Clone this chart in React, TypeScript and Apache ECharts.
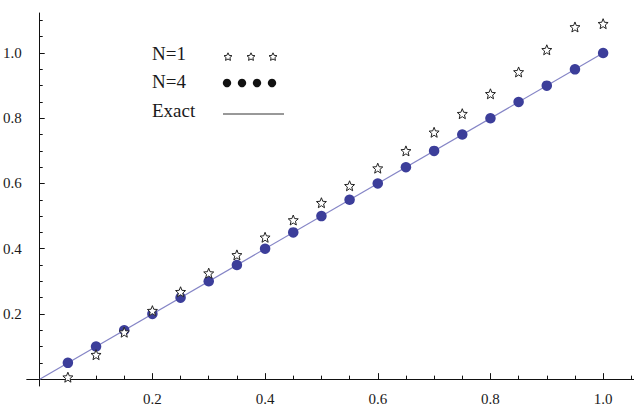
import React, { useEffect, useRef } from "react";
import * as echarts from "echarts";

const xValues = [0.05, 0.1, 0.15, 0.2, 0.25, 0.3, 0.35, 0.4, 0.45, 0.5, 0.55, 0.6, 0.65, 0.7, 0.75, 0.8, 0.85, 0.9, 0.95, 1.0];
const n1Values = [0.006, 0.075, 0.144, 0.21, 0.268, 0.325, 0.381, 0.435, 0.488, 0.541, 0.593, 0.647, 0.7, 0.757, 0.814, 0.875, 0.942, 1.01, 1.08, 1.09];
const n4Values = [0.05, 0.1, 0.15, 0.2, 0.25, 0.3, 0.35, 0.4, 0.45, 0.5, 0.55, 0.6, 0.65, 0.7, 0.75, 0.8, 0.85, 0.9, 0.95, 1.0];
const exactX = [0, 1];
const exactY = [0, 1];

const xMajorTicks = [0.2, 0.4, 0.6, 0.8, 1.0];
const xMinorTicks = [0.05, 0.1, 0.15, 0.25, 0.3, 0.35, 0.45, 0.5, 0.55, 0.65, 0.7, 0.75, 0.85, 0.9, 0.95, 1.05];
const yMajorTicks = [0.2, 0.4, 0.6, 0.8, 1.0];
const yMinorTicks = [0.05, 0.1, 0.15, 0.25, 0.3, 0.35, 0.45, 0.5, 0.55, 0.65, 0.7, 0.75, 0.85, 0.9, 0.95, 1.05, 1.1];

const legendNames = ["N=1", "N=4", "Exact"];

const STAR_PATH =
  "path://M50 0 L62.93 32.2 L97.55 34.55 L70.92 56.8 L79.39 90.45 L50 72 L20.61 90.45 L29.08 56.8 L2.45 34.55 L37.07 32.2 Z";

function starPoints(cx: number, cy: number, R: number, r: number) {
  const pts: number[][] = [];
  for (let i = 0; i < 10; i++) {
    const a = -Math.PI / 2 + (i * Math.PI) / 5;
    const rad = i % 2 === 0 ? R : r;
    pts.push([cx + rad * Math.cos(a), cy + rad * Math.sin(a)]);
  }
  return pts;
}

const SERIF = "Liberation Serif";
const AXIS_COLOR = "#111";
const DOT_COLOR = "#3c3e9a";
const LINE_COLOR = "#8585c6";

export default function App() {
  const ref = useRef<HTMLDivElement>(null);
  useEffect(() => {
    if (!ref.current) return;
    const chart = echarts.init(ref.current, null, { renderer: "svg" });

    const xMin = -0.023;
    const xMax = 1.0548;
    const yMin = -0.021;
    const yMax = 1.1228;

    const labelFmt = (v: number) => (Math.abs(v) < 1e-9 ? "" : v.toFixed(1));

    const legendGraphics: any[] = [];
    const legendTextY = [55, 83, 112];
    legendNames.forEach((name, i) => {
      legendGraphics.push({
        type: "text",
        left: 152,
        top: legendTextY[i] - 11,
        style: { text: name, fontSize: 19, fontFamily: SERIF, fill: "#1a1a1a" },
      });
    });
    [228, 251, 273].forEach((cx) => {
      legendGraphics.push({
        type: "polygon",
        shape: { points: starPoints(cx, 57, 4.2, 2) },
        style: { fill: "#fff", stroke: "#222", lineWidth: 1 },
      });
    });
    [227, 242, 257, 272].forEach((cx) => {
      legendGraphics.push({
        type: "circle",
        shape: { cx, cy: 83, r: 4.2 },
        style: { fill: "#111" },
      });
    });
    legendGraphics.push({
      type: "line",
      shape: { x1: 223, y1: 114, x2: 284, y2: 114 },
      style: { stroke: "#333", lineWidth: 1 },
    });

    const labelStyle = {
      formatter: labelFmt,
      color: "#1a1a1a",
      fontFamily: SERIF,
      fontSize: 15,
      margin: 5,
    };

    chart.setOption({
      animation: false,
      backgroundColor: "#fff",
      textStyle: { fontFamily: SERIF },
      grid: { left: 24, right: 0, top: 13, bottom: 11, containLabel: false },
      xAxis: [
        {
          type: "value",
          min: xMin,
          max: xMax,
          position: "bottom",
          splitLine: { show: false },
          axisLine: { show: true, onZero: true, lineStyle: { color: AXIS_COLOR, width: 1 } },
          axisTick: { show: true, inside: true, length: 6, customValues: xMajorTicks, lineStyle: { color: AXIS_COLOR } },
          axisLabel: { ...labelStyle, customValues: xMajorTicks },
        },
        {
          type: "value",
          min: xMin,
          max: xMax,
          position: "bottom",
          splitLine: { show: false },
          axisLine: { show: false, onZero: true },
          axisTick: { show: true, inside: true, length: 3.5, customValues: xMinorTicks, lineStyle: { color: AXIS_COLOR } },
          axisLabel: { show: false },
        },
      ],
      yAxis: [
        {
          type: "value",
          min: yMin,
          max: yMax,
          position: "left",
          splitLine: { show: false },
          axisLine: { show: true, onZero: true, lineStyle: { color: AXIS_COLOR, width: 1 } },
          axisTick: { show: true, inside: true, length: 5, customValues: yMajorTicks, lineStyle: { color: AXIS_COLOR } },
          axisLabel: { ...labelStyle, customValues: yMajorTicks },
        },
        {
          type: "value",
          min: yMin,
          max: yMax,
          position: "left",
          splitLine: { show: false },
          axisLine: { show: false, onZero: true },
          axisTick: { show: true, inside: true, length: 3, customValues: yMinorTicks, lineStyle: { color: AXIS_COLOR } },
          axisLabel: { show: false },
        },
      ],
      series: [
        {
          name: legendNames[2],
          type: "line",
          data: exactX.map((x, i) => [x, exactY[i]]),
          showSymbol: false,
          symbol: "none",
          lineStyle: { color: LINE_COLOR, width: 1.2 },
          z: 2,
        },
        {
          name: legendNames[1],
          type: "scatter",
          data: xValues.map((x, i) => [x, n4Values[i]]),
          symbol: "circle",
          symbolSize: 10.5,
          itemStyle: { color: DOT_COLOR, opacity: 1 },
          z: 3,
        },
        {
          name: legendNames[0],
          type: "scatter",
          data: xValues.map((x, i) => [x, n1Values[i]]),
          symbol: STAR_PATH,
          symbolSize: 10,
          itemStyle: { color: "#fff", borderColor: "#222", borderWidth: 1, opacity: 1 },
          z: 4,
        },
      ],
      graphic: legendGraphics,
    });
    return () => chart.dispose();
  }, []);
  return <div ref={ref} style={{ position: "fixed", left: 0, top: 0, width: 634, height: 406 }} />;
}
